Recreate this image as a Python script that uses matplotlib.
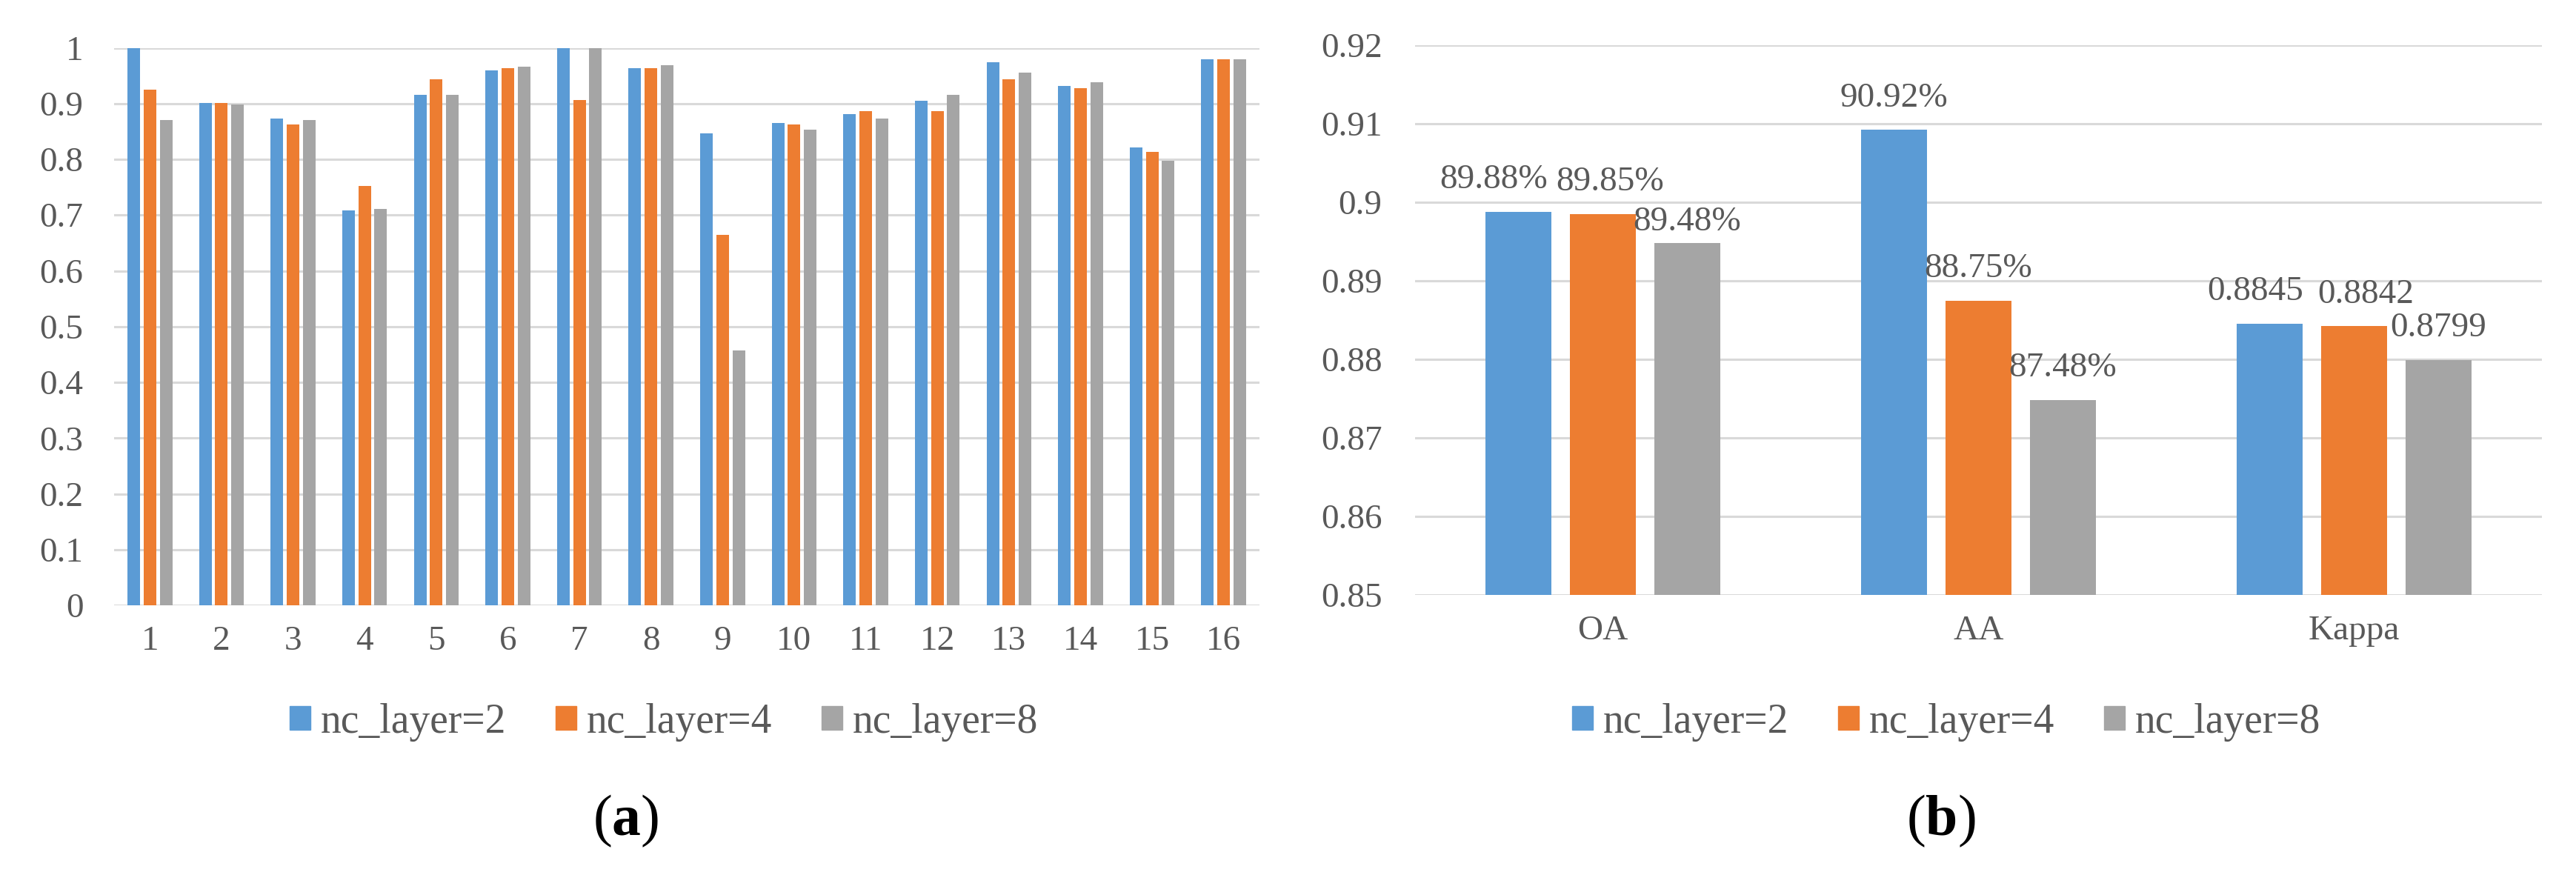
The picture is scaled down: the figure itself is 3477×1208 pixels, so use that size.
import matplotlib

matplotlib.use("Agg")
import matplotlib.pyplot as plt
import numpy as np

# (a) per-class accuracy for the 16 classes
classes = [str(i) for i in range(1, 17)]
acc_layer2 = [1.000, 0.901, 0.873, 0.708, 0.916, 0.960, 1.000, 0.963,
              0.846, 0.865, 0.881, 0.905, 0.974, 0.932, 0.821, 0.980]
acc_layer4 = [0.925, 0.901, 0.862, 0.752, 0.944, 0.963, 0.906, 0.963,
              0.664, 0.862, 0.886, 0.886, 0.944, 0.927, 0.813, 0.980]
acc_layer8 = [0.871, 0.899, 0.870, 0.711, 0.916, 0.966, 1.000, 0.969,
              0.457, 0.853, 0.873, 0.916, 0.956, 0.938, 0.797, 0.980]

# (b) overall metrics
metrics = ["OA", "AA", "Kappa"]
met_layer2 = [0.8988, 0.9092, 0.8845]
met_layer4 = [0.8985, 0.8875, 0.8842]
met_layer8 = [0.8948, 0.8748, 0.8799]
lab_layer2 = ["89.88%", "90.92%", "0.8845"]
lab_layer4 = ["89.85%", "88.75%", "0.8842"]
lab_layer8 = ["89.48%", "87.48%", "0.8799"]

series_names = ["nc_layer=2", "nc_layer=4", "nc_layer=8"]
colors = ["#5B9BD5", "#ED7D31", "#A5A5A5"]

yticks_a = [round(0.1 * i, 1) for i in range(11)]
yticks_b = [round(0.85 + 0.01 * i, 2) for i in range(8)]

TEXT = "#595959"
GRID = "#D9D9D9"
W, H = 3477, 1208

plt.rcParams["font.family"] = ["Liberation Serif", "DejaVu Serif"]
plt.rcParams["mathtext.fontset"] = "custom"
plt.rcParams["mathtext.rm"] = "Liberation Serif"
plt.rcParams["mathtext.bf"] = "Liberation Serif:bold"


def px_box(x0, x1, ytop, ybot):
    return [x0 / W, 1 - ybot / H, (x1 - x0) / W, (ybot - ytop) / H]


def style_axes(ax, ticks, pad_y):
    ax.set_axisbelow(True)
    ax.yaxis.grid(True, color=GRID, linewidth=2.2)
    ax.xaxis.grid(False)
    for s in ax.spines.values():
        s.set_visible(False)
    ax.set_yticks(ticks, [f"{t:g}" for t in ticks])
    ax.tick_params(axis="both", length=0, labelsize=34, labelcolor=TEXT)
    ax.tick_params(axis="y", pad=pad_y)
    ax.tick_params(axis="x", pad=20)


fig = plt.figure(figsize=(W / 100, H / 100), dpi=100)

bw = 0.175
off = 0.225

# ---- (a)
ax1 = fig.add_axes(px_box(154, 1700, 64.5, 817))
x = np.arange(len(classes))
for k, vals in enumerate([acc_layer2, acc_layer4, acc_layer8]):
    ax1.bar(x + (k - 1) * off, vals, width=bw, color=colors[k], label=series_names[k])
ax1.set_xticks(x, classes)
ax1.set_xlim(-0.5, len(classes) - 0.5)
ax1.set_ylim(0, 1)
style_axes(ax1, yticks_a, 30)

# ---- (b)
ax2 = fig.add_axes(px_box(1910, 3431, 61, 803))
xb = np.arange(len(metrics))
# small label nudges (points) where Excel moved labels to avoid overlap
nudge = {(0, 0): (-24, 0), (1, 0): (7, 0), (2, 0): (0, -11),
         (0, 2): (-14, 0), (1, 2): (11, 0)}
for k, (vals, labs) in enumerate(zip([met_layer2, met_layer4, met_layer8],
                                     [lab_layer2, lab_layer4, lab_layer8])):
    xs = xb + (k - 1) * off
    ax2.bar(xs, vals, width=bw, color=colors[k])
    for i, (xx, v, t) in enumerate(zip(xs, vals, labs)):
        dx, dy = nudge.get((k, i), (0, 0))
        ax2.annotate(t, xy=(xx, v), xytext=(dx, 23 + dy), textcoords="offset points",
                     ha="center", va="baseline", fontsize=34, color=TEXT)
ax2.set_xticks(xb, metrics)
ax2.set_xlim(-0.5, len(metrics) - 0.5)
ax2.set_ylim(0.85, 0.92)
style_axes(ax2, yticks_b, 32)

# legends
handles = [plt.Rectangle((0, 0), 1, 1, color=c) for c in colors]
for cx in (896, 2627):
    fig.legend(handles, series_names, loc="center", bbox_to_anchor=(cx / W, 1 - 975 / H),
               ncol=3, frameon=False, fontsize=40, labelcolor=TEXT,
               handlelength=0.5, handleheight=0.5, handletextpad=0.25,
               columnspacing=1.2, borderpad=0)

# captions
fig.text(845 / W, 1 - 1108 / H, r"($\mathbf{a}$)", ha="center", va="center", fontsize=56, color="black")
fig.text(2620 / W, 1 - 1108 / H, r"($\mathbf{b}$)", ha="center", va="center", fontsize=56, color="black")

fig.savefig("out.png", dpi=100, facecolor="white")
plt.close(fig)
